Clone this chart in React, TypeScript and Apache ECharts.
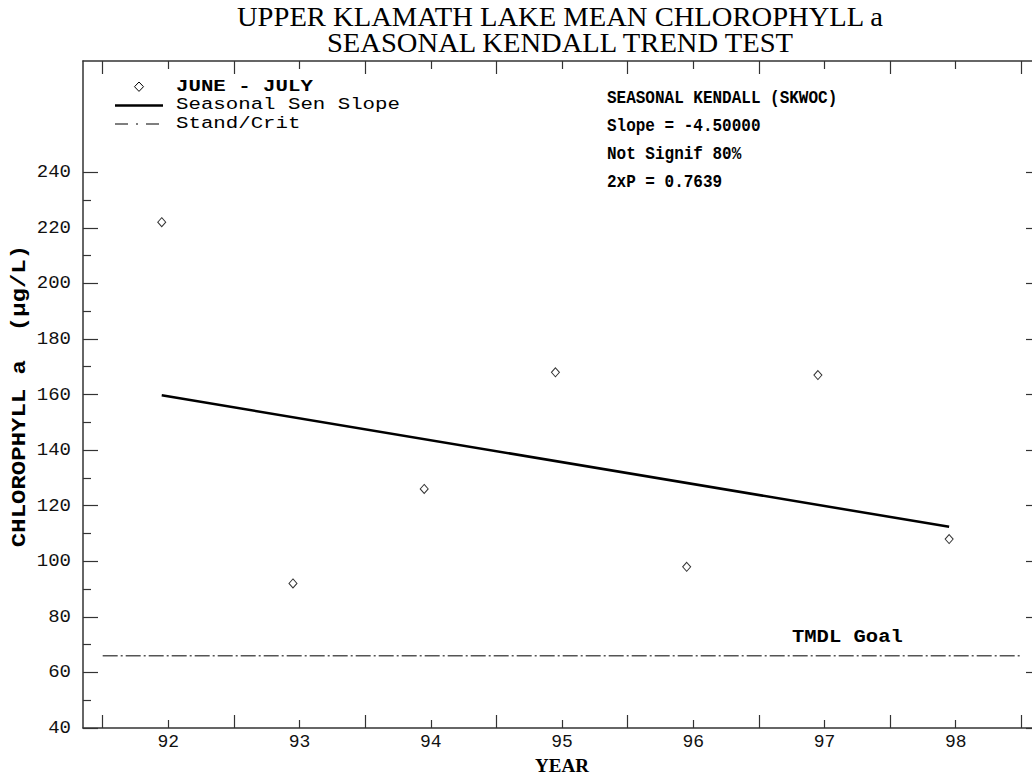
import React, { useEffect, useRef } from "react";
import * as echarts from "echarts";

const titleLines = ["UPPER KLAMATH LAKE MEAN CHLOROPHYLL a", "SEASONAL KENDALL TREND TEST"];
const yearLabels = [92, 93, 94, 95, 96, 97, 98];
const halfYearTicks = [91.5, 92.5, 93.5, 94.5, 95.5, 96.5, 97.5, 98.5];
const yMajorTicks = [40, 60, 80, 100, 120, 140, 160, 180, 200, 220, 240];
const yMinorTicks = [50, 70, 90, 110, 130, 150, 170, 190, 210, 230];
const pointYears = [91.95, 92.95, 93.95, 94.95, 95.95, 96.95, 97.95];
const chlorophyll = [222, 92, 126, 168, 98, 167, 108];
const senSlopeX = [91.95, 97.95];
const senSlopeY = [159.7, 112.4];
const goalX = [91.5, 98.5];
const goalValue = 66;
const statsLines = ["SEASONAL KENDALL (SKWOC)", "Slope = -4.50000", "Not Signif 80%", "2xP = 0.7639"];
const legendLabels = ["JUNE - JULY", "Seasonal Sen Slope", "Stand/Crit"];

const MONO = "'Liberation Mono', 'DejaVu Sans Mono', monospace";
const SERIF = "'Liberation Serif', 'DejaVu Serif', serif";
const AX = "#333";

export default function App() {
  const ref = useRef<HTMLDivElement>(null);
  useEffect(() => {
    document.body.style.margin = "0";
    const chart = echarts.init(ref.current!, null, { renderer: "svg" });
    const xBase = { type: "value", gridIndex: 0, min: 91.35, max: 98.65, splitLine: { show: false } };
    const yBase = { type: "value", gridIndex: 0, min: 40, max: 280, interval: 20, splitLine: { show: false } };
    const option: any = {
      animation: false,
      backgroundColor: "#fff",
      grid: { left: 83, top: 61, width: 958, height: 667 },
      xAxis: [
        {
          ...xBase,
          position: "bottom",
          axisLine: { show: true, lineStyle: { color: AX, width: 1.5 } },
          axisTick: { show: true, inside: true, length: 8, customValues: yearLabels, lineStyle: { color: AX, width: 1.2 } },
          axisLabel: { show: true, customValues: yearLabels, margin: 5, fontFamily: MONO, fontSize: 18, color: "#111" },
        },
        {
          ...xBase,
          position: "bottom",
          axisLine: { show: false },
          axisTick: { show: true, inside: true, length: 13, customValues: halfYearTicks, lineStyle: { color: AX, width: 1.2 } },
          axisLabel: { show: false },
        },
        {
          ...xBase,
          position: "top",
          axisLine: { show: true, lineStyle: { color: AX, width: 1.5 } },
          axisTick: { show: true, inside: true, length: 8, customValues: yearLabels, lineStyle: { color: AX, width: 1.2 } },
          axisLabel: { show: false },
        },
        {
          ...xBase,
          position: "top",
          axisLine: { show: false },
          axisTick: { show: true, inside: true, length: 13, customValues: halfYearTicks, lineStyle: { color: AX, width: 1.2 } },
          axisLabel: { show: false },
        },
      ],
      yAxis: [
        {
          ...yBase,
          position: "left",
          axisLine: { show: true, lineStyle: { color: AX, width: 1.5 } },
          axisTick: { show: true, inside: true, length: 15, customValues: yMajorTicks, lineStyle: { color: AX, width: 1.2 } },
          axisLabel: { show: true, customValues: yMajorTicks, margin: 12, fontFamily: MONO, fontSize: 19, color: "#111" },
        },
        {
          ...yBase,
          position: "left",
          axisLine: { show: false },
          axisTick: { show: true, inside: true, length: 8, customValues: yMinorTicks, lineStyle: { color: AX, width: 1.2 } },
          axisLabel: { show: false },
        },
        {
          ...yBase,
          position: "right",
          axisLine: { show: true, lineStyle: { color: AX, width: 1.5 } },
          axisTick: { show: true, inside: true, length: 15, customValues: yMajorTicks, lineStyle: { color: AX, width: 1.2 } },
          axisLabel: { show: false },
        },
        {
          ...yBase,
          position: "right",
          axisLine: { show: false },
          axisTick: { show: true, inside: true, length: 8, customValues: yMinorTicks, lineStyle: { color: AX, width: 1.2 } },
          axisLabel: { show: false },
        },
      ],
      series: [
        {
          type: "line",
          name: "Stand/Crit",
          xAxisIndex: 0,
          yAxisIndex: 0,
          data: goalX.map((x) => [x, goalValue]),
          symbol: "none",
          lineStyle: { color: "#555", width: 1.5, type: [15, 3, 2, 3] },
          silent: true,
        },
        {
          type: "line",
          name: "Seasonal Sen Slope",
          xAxisIndex: 0,
          yAxisIndex: 0,
          data: senSlopeX.map((x, i) => [x, senSlopeY[i]]),
          symbol: "none",
          lineStyle: { color: "#000", width: 2.5 },
          silent: true,
        },
        {
          type: "scatter",
          name: "JUNE - JULY",
          xAxisIndex: 0,
          yAxisIndex: 0,
          data: pointYears.map((x, i) => [x, chlorophyll[i]]),
          symbol: "diamond",
          symbolSize: [8, 9],
          itemStyle: { color: "#fff", borderColor: "#000", borderWidth: 1 },
          z: 5,
        },
      ],
      graphic: [
        ...titleLines.map((t, i) => ({
          type: "text",
          x: 560,
          y: 17 + i * 26,
          scaleX: 1.1,
          scaleY: 1.08,
          style: { text: t, font: `26px ${SERIF}`, fill: "#000", align: "center", verticalAlign: "middle" },
        })),
        {
          type: "text",
          x: 20,
          y: 396,
          rotation: Math.PI / 2,
          scaleX: 1.2,
          style: { text: "CHLOROPHYLL a  (\u03bcg/L)", font: `bold 20px ${MONO}`, fill: "#000", align: "center", verticalAlign: "middle" },
        },
        {
          type: "text",
          x: 562,
          y: 765,
          style: { text: "YEAR", font: `bold 19px ${SERIF}`, fill: "#000", align: "center", verticalAlign: "middle" },
        },
        {
          type: "polygon",
          shape: { points: [[139, 82], [143.5, 86.7], [139, 91.4], [134.5, 86.7]] },
          style: { fill: "#fff", stroke: "#000", lineWidth: 1 },
        },
        {
          type: "line",
          shape: { x1: 115, y1: 105.5, x2: 163, y2: 105.5 },
          style: { stroke: "#000", lineWidth: 2.5 },
        },
        {
          type: "line",
          shape: { x1: 115, y1: 124, x2: 163, y2: 124 },
          style: { stroke: "#555", lineWidth: 1.5, lineDash: [13, 8, 2, 8] },
        },
        ...legendLabels.map((t, i) => ({
          type: "text",
          x: 176,
          y: [86.7, 105, 124][i],
          scaleX: 1.22,
          style: { text: t, font: `${i === 0 ? "bold " : ""}17px ${MONO}`, fill: "#000", align: "left", verticalAlign: "middle" },
        })),
        ...statsLines.map((t, i) => ({
          type: "text",
          x: 607,
          y: 98 + i * 27.7,
          scaleY: 1.2,
          style: { text: t, font: `bold 16px ${MONO}`, fill: "#000", align: "left", verticalAlign: "middle" },
        })),
        {
          type: "text",
          x: 792,
          y: 637,
          scaleX: 1.08,
          style: { text: "TMDL Goal", font: `bold 19px ${MONO}`, fill: "#000", align: "left", verticalAlign: "middle" },
        },
      ],
    };
    chart.setOption(option);
    return () => chart.dispose();
  }, []);
  return (
    <div style={{ width: 1032, height: 775, overflow: "hidden" }}>
      <div ref={ref} style={{ width: 1050, height: 775 }} />
    </div>
  );
}
